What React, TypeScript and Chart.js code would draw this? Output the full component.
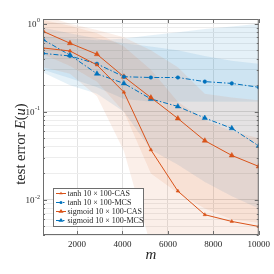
import { useEffect, useRef } from 'react';
import { Chart, registerables } from 'chart.js';

Chart.register(...registerables);

// ---------------- data ----------------
const mValues = [500, 1687.5, 2875, 4062.5, 5250, 6437.5, 7625, 8812.5, 10000];

const tanhCAS = [0.53, 0.49, 0.34, 0.167, 0.037, 0.0126, 0.0068, 0.0057, 0.005];
const tanhMCS = [0.46, 0.43, 0.35, 0.25, 0.245, 0.245, 0.22, 0.21, 0.19];
const sigmoidCAS = [0.82, 0.6, 0.45, 0.25, 0.145, 0.084, 0.047, 0.032, 0.024];
const sigmoidMCS = [0.66, 0.44, 0.27, 0.21, 0.14, 0.115, 0.085, 0.065, 0.041];

const tanhCASLow = [0.32, 0.27, 0.15, 0.036, 0.003, 0.0015, 0.001, 0.001, 0.001];
const tanhCASHigh = [1.1, 0.95, 0.78, 0.55, 0.3, 0.13, 0.08, 0.06, 0.05];
const sigmoidCASLow = [0.45, 0.33, 0.22, 0.1, 0.02, 0.012, 0.008, 0.006, 0.0055];
const sigmoidCASHigh = [1.25, 1.0, 0.85, 0.7, 0.5, 0.32, 0.16, 0.145, 0.135];
const tanhMCSLow = [0.3, 0.24, 0.19, 0.14, 0.13, 0.13, 0.13, 0.13, 0.13];
const tanhMCSHigh = [0.72, 0.68, 0.65, 0.68, 0.74, 0.8, 0.87, 0.93, 1.0];
const sigmoidMCSLow = [0.28, 0.2, 0.16, 0.1, 0.037, 0.025, 0.016, 0.011, 0.008];
const sigmoidMCSHigh = [0.9, 0.78, 0.68, 0.6, 0.55, 0.5, 0.43, 0.38, 0.35];

const xTicks = [2000, 4000, 6000, 8000, 10000];
const yMajorTicks = [0.01, 0.1, 1];
const yAllTicks = [
  0.004, 0.005, 0.006, 0.007, 0.008, 0.009,
  0.01, 0.02, 0.03, 0.04, 0.05, 0.06, 0.07, 0.08, 0.09,
  0.1, 0.2, 0.3, 0.4, 0.5, 0.6, 0.7, 0.8, 0.9, 1,
];
const legendLabels = [
  'tanh 10 × 100-CAS',
  'tanh 10 × 100-MCS',
  'sigmoid 10 × 100-CAS',
  'sigmoid 10 × 100-MCS',
];

// ---------------- styles ----------------
const ORANGE = 'rgb(217,83,25)';
const BLUE = 'rgb(0,114,189)';
const ORANGE_FILL = 'rgba(217,83,25,0.095)';
const BLUE_FILL = 'rgba(0,114,189,0.1)';
const DASHDOT = [5, 2, 1.5, 2];
const SERIF = '"Liberation Serif", "DejaVu Serif", serif';
const AXIS = '#262626';

const pts = (arr: number[]) => mValues.map((x, i) => ({ x, y: arr[i] }));

const seriesStyle = [
  { color: ORANGE, dash: [] as number[], style: 'triangle', r: 2 },
  { color: BLUE, dash: DASHDOT, style: 'circle', r: 1.8 },
  { color: ORANGE, dash: [] as number[], style: 'triangle', r: 3 },
  { color: BLUE, dash: DASHDOT, style: 'triangle', r: 3 },
];

const lineDs = (label: string, arr: number[], k: number) => ({
  label,
  data: pts(arr),
  borderColor: seriesStyle[k].color,
  backgroundColor: seriesStyle[k].color,
  borderWidth: 1,
  borderDash: seriesStyle[k].dash,
  pointStyle: seriesStyle[k].style,
  pointRadius: seriesStyle[k].r,
  pointBackgroundColor: seriesStyle[k].color,
  pointBorderColor: seriesStyle[k].color,
  pointBorderWidth: 0.5,
  fill: false,
  tension: 0,
});

const bandLow = (arr: number[]) => ({
  label: '_low',
  data: pts(arr),
  borderWidth: 0,
  borderColor: 'rgba(0,0,0,0)',
  pointRadius: 0,
  fill: false,
  tension: 0,
});
const bandHigh = (arr: number[], target: number, color: string) => ({
  label: '_high',
  data: pts(arr),
  borderWidth: 0,
  borderColor: 'rgba(0,0,0,0)',
  backgroundColor: color,
  pointRadius: 0,
  fill: target,
  tension: 0,
});

function drawMarker(ctx: CanvasRenderingContext2D, style: string, x: number, y: number, r: number, color: string) {
  ctx.save();
  ctx.fillStyle = color;
  ctx.beginPath();
  if (style === 'circle') {
    ctx.arc(x, y, r, 0, Math.PI * 2);
  } else {
    const h = r * 1.5;
    ctx.moveTo(x, y - h * 0.66);
    ctx.lineTo(x + r * 1.0, y + h * 0.34);
    ctx.lineTo(x - r * 1.0, y + h * 0.34);
    ctx.closePath();
  }
  ctx.fill();
  ctx.restore();
}

const deco = {
  id: 'deco',
  afterDraw(chart: any) {
    const { ctx, chartArea: a, scales } = chart;
    const ys = scales.y;
    const xs = scales.x;
    ctx.save();
    // frame
    ctx.strokeStyle = '#6e6e6e';
    ctx.lineWidth = 1;
    ctx.strokeRect(a.left + 0.5, a.top + 0.5, a.right - a.left - 1, a.bottom - a.top - 1);
    // inward ticks
    ctx.beginPath();
    for (const v of yAllTicks) {
      const py = Math.round(ys.getPixelForValue(v)) + 0.5;
      const len = yMajorTicks.includes(v) ? 4 : 2;
      ctx.moveTo(a.left, py);
      ctx.lineTo(a.left + len, py);
      ctx.moveTo(a.right, py);
      ctx.lineTo(a.right - len, py);
    }
    for (const v of xTicks) {
      const px = Math.round(xs.getPixelForValue(v)) + 0.5;
      ctx.moveTo(px, a.bottom);
      ctx.lineTo(px, a.bottom - 4);
      ctx.moveTo(px, a.top);
      ctx.lineTo(px, a.top + 4);
    }
    ctx.stroke();

    // y tick labels 10^n
    ctx.fillStyle = AXIS;
    ctx.textBaseline = 'middle';
    for (const v of yMajorTicks) {
      const py = ys.getPixelForValue(v);
      const exp = String(Math.round(Math.log10(v)));
      ctx.font = `9px ${SERIF}`;
      const wb = ctx.measureText('10').width;
      ctx.font = `6px ${SERIF}`;
      const we = ctx.measureText(exp).width;
      const right = a.left - 3;
      const x0 = right - wb - we - 0.5;
      ctx.font = `9px ${SERIF}`;
      ctx.textAlign = 'left';
      ctx.fillText('10', x0, py + 1);
      ctx.font = `6px ${SERIF}`;
      ctx.fillText(exp, x0 + wb + 0.5, py - 3);
    }

    // x axis title
    ctx.font = `italic 15px ${SERIF}`;
    ctx.textAlign = 'center';
    ctx.textBaseline = 'middle';
    ctx.fillText('m', (a.left + a.right) / 2, 255);

    // y axis title
    const parts: [string, boolean][] = [
      ['test error ', false],
      ['E', true],
      ['(', false],
      ['u', true],
      [')', false],
    ];
    const fs = 14.5;
    let total = 0;
    const widths: number[] = [];
    for (const [t, it] of parts) {
      ctx.font = `${it ? 'italic ' : ''}${fs}px ${SERIF}`;
      const w = ctx.measureText(t).width;
      widths.push(w);
      total += w;
    }
    ctx.save();
    ctx.translate(21, 144);
    ctx.rotate(-Math.PI / 2);
    ctx.textAlign = 'left';
    let cx = -total / 2;
    parts.forEach(([t, it], i) => {
      ctx.font = `${it ? 'italic ' : ''}${fs}px ${SERIF}`;
      ctx.fillText(t, cx, 0);
      cx += widths[i];
    });
    ctx.restore();

    // legend
    const bx = 53.5, by = 188.5, bw = 90, bh = 38;
    ctx.fillStyle = '#ffffff';
    ctx.fillRect(bx, by, bw, bh);
    ctx.strokeStyle = '#6e6e6e';
    ctx.lineWidth = 1;
    ctx.strokeRect(bx, by, bw, bh);
    legendLabels.forEach((lab, i) => {
      const s = seriesStyle[i];
      const ry = 193.5 + i * 9;
      ctx.save();
      ctx.strokeStyle = s.color;
      ctx.lineWidth = 1;
      ctx.setLineDash(s.dash);
      ctx.beginPath();
      ctx.moveTo(56, ry);
      ctx.lineTo(66, ry);
      ctx.stroke();
      ctx.restore();
      drawMarker(ctx, s.style, 61, ry, s.r * 0.85, s.color);
      ctx.fillStyle = AXIS;
      ctx.font = `8px ${SERIF}`;
      ctx.textAlign = 'left';
      ctx.textBaseline = 'middle';
      ctx.fillText(lab, 67.5, ry + 0.5);
    });
    ctx.restore();
  },
};

export default function App() {
  const ref = useRef<HTMLCanvasElement>(null);
  useEffect(() => {
    const chart = new Chart(ref.current as HTMLCanvasElement, {
      type: 'line',
      data: {
        datasets: [
          lineDs(legendLabels[0], tanhCAS, 0),
          lineDs(legendLabels[1], tanhMCS, 1),
          lineDs(legendLabels[2], sigmoidCAS, 2),
          lineDs(legendLabels[3], sigmoidMCS, 3),
          bandLow(tanhCASLow),
          bandHigh(tanhCASHigh, 4, ORANGE_FILL),
          bandLow(sigmoidCASLow),
          bandHigh(sigmoidCASHigh, 6, ORANGE_FILL),
          bandLow(tanhMCSLow),
          bandHigh(tanhMCSHigh, 8, BLUE_FILL),
          bandLow(sigmoidMCSLow),
          bandHigh(sigmoidMCSHigh, 10, BLUE_FILL),
        ] as any,
      },
      options: {
        animation: false,
        responsive: false,
        devicePixelRatio: 1,
        layout: { padding: { top: 19, right: 12, left: 0, bottom: 0 } },
        plugins: {
          legend: { display: false },
          tooltip: { enabled: false },
          title: { display: false },
        },
        scales: {
          x: {
            type: 'linear',
            min: 500,
            max: 10000,
            bounds: 'data',
            afterBuildTicks: (s: any) => {
              s.ticks = xTicks.map((v) => ({ value: v }));
            },
            afterFit: (s: any) => {
              s.height = 39;
            },
            grid: { color: '#e3e3e3', drawTicks: false, lineWidth: 1 },
            border: { display: false },
            ticks: {
              padding: 4,
              color: AXIS,
              font: { family: SERIF, size: 9 },
              maxRotation: 0,
              autoSkip: false,
              callback: (v: any) => String(v),
            },
          },
          y: {
            type: 'logarithmic',
            min: 0.004,
            max: 1.13,
            bounds: 'data',
            afterBuildTicks: (s: any) => {
              s.ticks = yAllTicks.map((v) => ({ value: v, major: yMajorTicks.includes(v) }));
            },
            afterFit: (s: any) => {
              s.width = 43;
            },
            grid: {
              drawTicks: false,
              color: (c: any) => (yMajorTicks.includes(c.tick?.value) ? '#dedede' : '#ededed'),
              lineWidth: 1,
            },
            border: { display: false },
            ticks: { display: false },
          },
        },
      },
      plugins: [deco],
    } as any);
    return () => chart.destroy();
  }, []);
  return (
    <div style={{ position: 'fixed', left: 0, top: 0, width: 274, height: 274, background: '#fff' }}>
      <canvas ref={ref} width={274} height={274} style={{ width: 274, height: 274, display: 'block' }} />
    </div>
  );
}
